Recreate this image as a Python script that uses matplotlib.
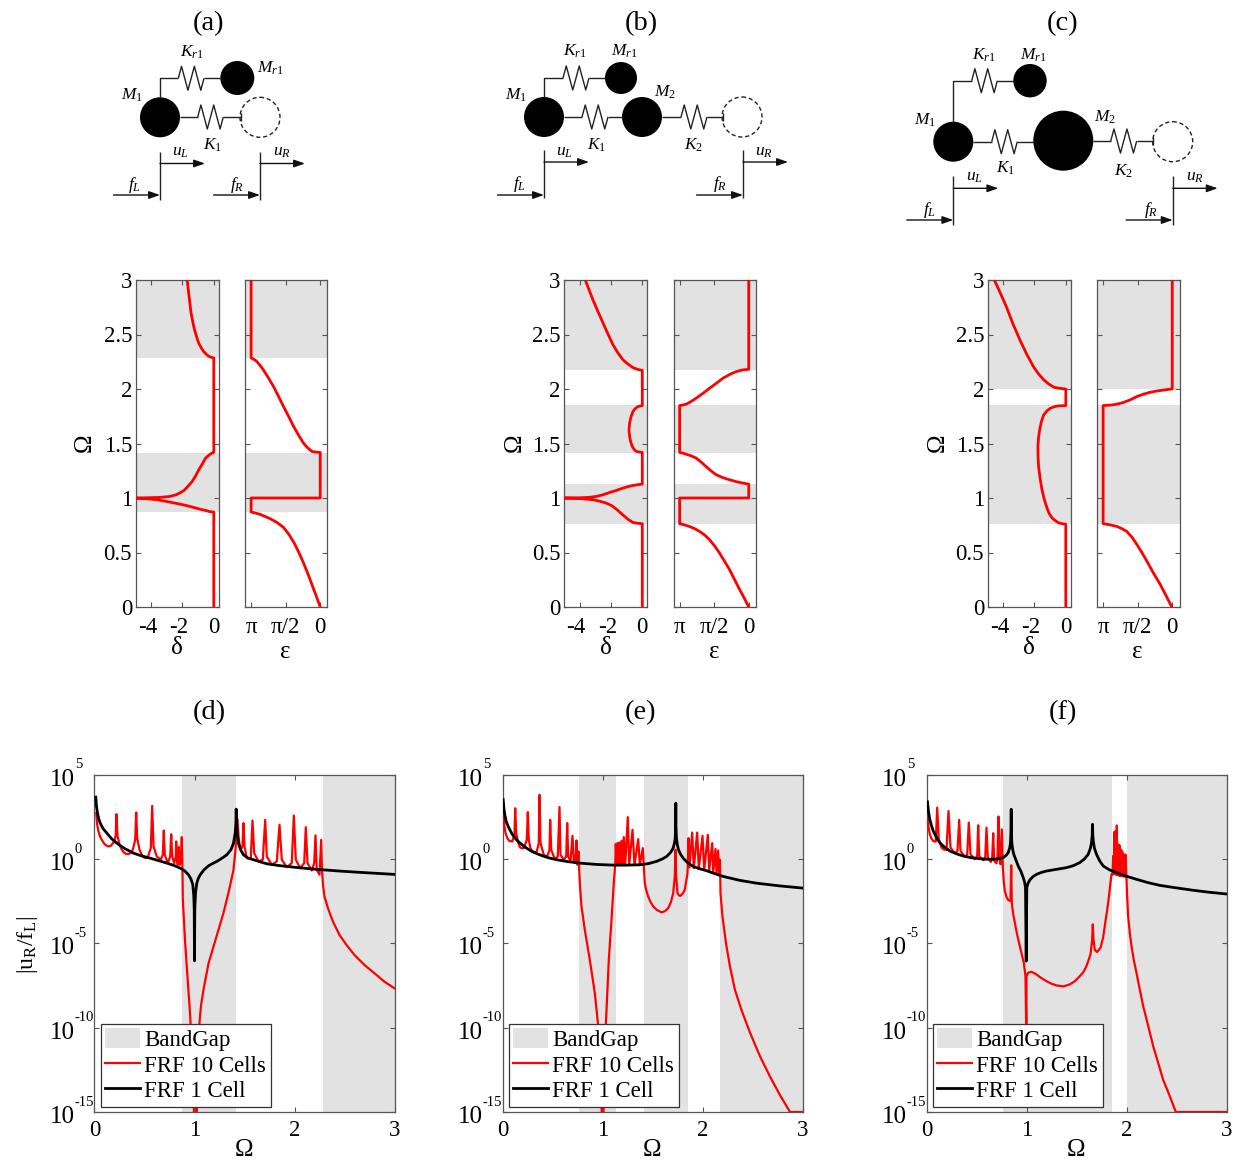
import numpy as np
import matplotlib as mpl
mpl.use('Agg')
import matplotlib.pyplot as plt
from matplotlib.patches import Circle
from matplotlib.transforms import ScaledTranslation

W, H = 1236, 1160
pi = np.pi

# band gaps, Omega from / to
GAPS_A = [(0.87, 1.415), (2.285, 3.0)]
GAPS_B = [(0.76, 1.13), (1.415, 1.85), (2.17, 3.0)]
GAPS_C = [(0.76, 1.85), (2.0, 3.0)]

# attenuation delta: (Omega, delta)
DELTA_A = [(0, 0), (0.871, 0), (0.873, -0.15), (0.878, -0.35), (0.886, -0.53), (0.895, -0.8), (0.904, -1.06),
           (0.916, -1.35), (0.929, -1.7), (0.945, -2.2), (0.962, -2.8), (0.984, -3.6), (0.993, -4.3), (0.998, -4.9),
           (1.0, -5.2), (1.002, -4.3), (1.005, -3.5), (1.014, -2.8), (1.03, -2.4), (1.05, -2.12), (1.07, -1.9),
           (1.11, -1.63), (1.152, -1.38), (1.2, -1.17), (1.259, -0.96), (1.31, -0.74), (1.366, -0.53), (1.39, -0.33),
           (1.405, -0.2), (1.413, -0.1), (1.418, 0), (2.285, 0), (2.29, -0.15), (2.30, -0.32), (2.32, -0.49),
           (2.343, -0.64), (2.38, -0.81), (2.42, -0.96), (2.48, -1.1), (2.542, -1.23), (2.615, -1.34), (2.695, -1.45),
           (2.85, -1.58), (3.0, -1.7)]
DELTA_B = [(0, 0), (0.764, 0), (0.768, -0.3), (0.776, -0.6), (0.8, -0.87), (0.831, -1.13), (0.865, -1.4),
           (0.898, -1.66), (0.93, -1.95), (0.953, -2.3), (0.97, -2.7), (0.984, -3.15), (0.996, -4), (1.0, -5.2),
           (1.002, -4), (1.006, -3.4), (1.014, -2.94), (1.03, -2.5), (1.051, -2.08), (1.07, -1.65), (1.091, -1.23),
           (1.105, -0.9), (1.115, -0.6), (1.122, -0.3), (1.127, 0), (1.418, 0), (1.422, -0.2), (1.427, -0.38),
           (1.445, -0.52), (1.473, -0.64), (1.52, -0.75), (1.564, -0.81), (1.625, -0.85), (1.687, -0.81), (1.74, -0.73),
           (1.793, -0.6), (1.82, -0.45), (1.839, -0.28), (1.848, 0), (2.17, 0), (2.18, -0.3), (2.197, -0.6),
           (2.23, -0.92), (2.267, -1.23), (2.33, -1.55), (2.405, -1.87), (2.5, -2.18), (2.603, -2.5), (2.71, -2.83),
           (2.817, -3.15), (2.91, -3.4), (3.0, -3.64)]
DELTA_C = [(0, 0), (0.76, 0), (0.763, -0.2), (0.77, -0.43), (0.79, -0.65), (0.816, -0.87), (0.855, -1.05),
           (0.907, -1.2), (0.99, -1.38), (1.075, -1.52), (1.18, -1.64), (1.289, -1.74), (1.38, -1.77), (1.473, -1.78),
           (1.555, -1.74), (1.625, -1.67), (1.7, -1.56), (1.763, -1.41), (1.8, -1.2), (1.824, -0.98), (1.838, -0.72),
           (1.845, -0.5), (1.848, 0), (2.0, 0), (2.005, -0.35), (2.016, -0.76), (2.045, -1.08), (2.084, -1.41),
           (2.14, -1.75), (2.206, -2.07), (2.32, -2.5), (2.45, -2.93), (2.6, -3.38), (2.756, -3.8), (2.88, -4.18),
           (3.0, -4.56)]

# phase epsilon: (Omega, epsilon)
EPS_A = [(0, 0), (0.095, 0.17), (0.19, 0.349), (0.3, 0.55), (0.403, 0.759), (0.5, 0.97), (0.587, 1.184),
         (0.665, 1.42), (0.73, 1.669), (0.775, 1.96), (0.81, 2.276), (0.83, 2.5), (0.85, 2.73), (0.862, 2.95),
         (0.871, pi), (1.0, pi), (1.0, 0), (1.418, 0), (1.421, 0.2), (1.427, 0.38), (1.46, 0.57), (1.503, 0.76),
         (1.575, 0.98), (1.656, 1.21), (1.75, 1.44), (1.839, 1.67), (1.93, 1.89), (2.022, 2.12), (2.1, 2.35),
         (2.175, 2.58), (2.215, 2.73), (2.252, 2.88), (2.273, 3.02), (2.285, pi), (3.0, pi)]
EPS_B = [(0, 0), (0.08, 0.2), (0.159, 0.41), (0.25, 0.64), (0.342, 0.87), (0.42, 1.1), (0.495, 1.33),
         (0.56, 1.55), (0.617, 1.78), (0.66, 2.0), (0.694, 2.24), (0.72, 2.47), (0.739, 2.7), (0.755, 2.95),
         (0.764, pi), (1.0, pi), (1.0, 0), (1.127, 0), (1.131, 0.12), (1.137, 0.26), (1.15, 0.57), (1.167, 0.87),
         (1.187, 1.18), (1.213, 1.48), (1.25, 1.72), (1.289, 1.94), (1.33, 2.17), (1.366, 2.39), (1.387, 2.62),
         (1.402, 2.85), (1.412, 3.0), (1.418, pi), (1.848, pi), (1.852, 3.02), (1.86, 2.85), (1.885, 2.62),
         (1.916, 2.39), (1.96, 2.08), (2.007, 1.78), (2.053, 1.47), (2.099, 1.17), (2.135, 0.85), (2.16, 0.56),
         (2.175, 0.28), (2.181, 0), (3.0, 0)]
EPS_C = [(0, 0.02), (0.1, 0.27), (0.205, 0.54), (0.31, 0.85), (0.419, 1.15), (0.5, 1.38), (0.571, 1.6),
         (0.64, 1.83), (0.694, 2.07), (0.72, 2.3), (0.74, 2.53), (0.755, 2.85), (0.764, pi), (1.848, pi),
         (1.851, 2.9), (1.855, 2.68), (1.864, 2.45), (1.876, 2.22), (1.9, 1.92), (1.931, 1.6), (1.953, 1.3),
         (1.97, 1.0), (1.982, 0.7), (1.99, 0.38), (1.997, 0.15), (2.0, 0), (3.0, 0)]

# FRF: (Omega, log10 |uR/fL|)
RED_D = [(0.017, 2.71), (0.025, 2.1), (0.04, 1.62), (0.055, 1.33), (0.073, 1.13), (0.097, 0.9), (0.123, 0.77),
         (0.145, 0.74), (0.163, 0.77), (0.197, 1.03), (0.212, 1.37), (0.22, 2.65), (0.23, 1.37), (0.25, 0.83),
         (0.27, 0.58), (0.29, 0.4), (0.315, 0.3), (0.34, 0.28), (0.365, 0.37), (0.383, 0.54), (0.407, 1.13),
         (0.417, 2.75), (0.427, 1.23), (0.45, 0.54), (0.47, 0.28), (0.49, 0.1), (0.51, 0.05), (0.533, 0.1), (0.563, 0.64),
         (0.577, 3.14), (0.59, 0.74), (0.623, 0.14), (0.663, -0.05), (0.683, 0.24), (0.693, 1.68), (0.703, 0.24),
         (0.733, -0.25), (0.757, 0.14), (0.767, 1.46), (0.777, 0.14), (0.797, -0.25), (0.813, 0.14), (0.817, 1.03),
         (0.823, -0.05), (0.833, -0.35), (0.843, 0.7), (0.853, -0.35), (0.865, 0.0), (0.873, 1.29), (0.88, -0.85),
         (0.883, -2.4), (0.907, -5), (0.93, -7), (0.957, -9.3), (0.983, -12.9), (1.0, -16), (1.023, -15), (1.047, -9.9),
         (1.065, -8.7), (1.09, -7.75), (1.14, -6.2), (1.19, -5.2), (1.24, -4.2), (1.29, -3.2), (1.34, -2), (1.37, -1.2),
         (1.39, -0.65), (1.41, 0.54), (1.43, 2.35), (1.443, 1.13), (1.463, 0.54), (1.48, 0.74), (1.49, 2.12), (1.5, 0.74),
         (1.523, 0.04), (1.563, 0.04), (1.58, 2.27), (1.597, 0.34), (1.64, -0.15), (1.683, -0.05), (1.707, 2.31),
         (1.723, 0.14), (1.773, -0.35), (1.823, -0.15), (1.85, 2.02), (1.873, -0.05), (1.923, -0.49), (1.973, -0.25),
         (1.993, 2.57), (2.013, -0.05), (2.057, -0.55), (2.097, -0.25), (2.113, 1.88), (2.13, -0.25), (2.173, -0.69),
         (2.197, -0.25), (2.21, 1.39), (2.223, -0.65), (2.25, -0.94), (2.267, 1.13), (2.275, -0.66), (2.285, -1.55),
         (2.30, -2.24), (2.335, -2.93), (2.385, -3.72), (2.45, -4.51), (2.52, -5.1), (2.60, -5.7), (2.70, -6.29),
         (2.80, -6.78), (2.90, -7.28), (3.0, -7.67)]
BLACK_D = [(0.013, 3.66), (0.02, 3.1), (0.03, 2.71), (0.042, 2.38), (0.057, 2.12), (0.085, 1.8), (0.123, 1.53),
           (0.17, 1.2), (0.223, 0.93), (0.3, 0.62), (0.39, 0.34), (0.47, 0.18), (0.557, 0.04), (0.64, -0.1),
           (0.723, -0.25), (0.8, -0.4), (0.857, -0.55), (0.9, -0.7), (0.94, -0.94), (0.965, -1.2), (0.983, -1.53),
           (0.993, -2.2), (0.997, -3), (1.0, -6.04), (1.003, -3), (1.01, -2.03), (1.023, -1.44), (1.037, -1.17),
           (1.057, -0.94), (1.095, -0.65), (1.14, -0.41), (1.18, -0.28), (1.223, -0.15), (1.27, 0.02), (1.323, 0.24),
           (1.365, 0.55), (1.39, 0.93), (1.407, 1.53), (1.414, 2.1), (1.417, 2.95), (1.42, 2.1), (1.427, 1.53),
           (1.443, 0.83), (1.463, 0.52), (1.49, 0.24), (1.535, 0.05), (1.59, -0.05), (1.66, -0.18), (1.723, -0.29),
           (1.85, -0.4), (1.99, -0.49), (2.14, -0.58), (2.29, -0.65), (2.47, -0.73), (2.657, -0.8), (2.83, -0.86),
           (3.0, -0.92)]
RED_E = [(0.01, 2.51), (0.018, 2.0), (0.03, 1.53), (0.047, 1.25), (0.067, 1.07), (0.097, 1.03), (0.12, 1.43), (0.127, 3.0),
         (0.137, 1.53), (0.155, 1.0), (0.173, 0.7), (0.193, 0.62), (0.213, 0.64), (0.243, 1.13), (0.253, 2.77), (0.263, 1.13),
         (0.28, 0.62), (0.3, 0.44), (0.34, 0.38), (0.363, 0.93), (0.37, 3.8), (0.38, 0.93), (0.413, 0.24), (0.447, 0.14),
         (0.47, 0.54), (0.477, 2.31), (0.487, 0.54), (0.523, -0.02), (0.553, 0.14), (0.57, 3.07), (0.58, 0.24), (0.613, -0.05),
         (0.637, 0.14), (0.647, 2.12), (0.657, 0.14), (0.68, -0.15), (0.7, 1.37), (0.713, -0.15), (0.73, -0.25), (0.74, 1.09),
         (0.75, -0.35), (0.76, 0.44), (0.767, -0.65), (0.775, -1.6), (0.79, -2.82), (0.823, -4.2), (0.873, -5.98), (0.923, -7.95),
         (0.957, -9.9), (0.983, -13.9), (1.0, -16), (1.02, -13.9), (1.033, -9.9), (1.063, -5.98), (1.09, -3.6),
         (1.113, -1.44), (1.127, -0.35), (1.133, 0.89), (1.14, -0.35), (1.15, 0.93), (1.157, -0.35), (1.167, 0.97),
         (1.177, -0.35), (1.19, 1.07), (1.2, -0.35), (1.213, 1.29), (1.227, -0.37), (1.253, 2.47), (1.267, -0.37),
         (1.3, 1.72), (1.32, -0.37), (1.357, 1.17), (1.373, -0.37), (1.403, 0.64), (1.413, -0.45), (1.423, -1.44),
         (1.437, -1.85), (1.457, -2.23), (1.48, -2.55), (1.507, -2.82), (1.545, -3.03), (1.59, -3.17), (1.625, -3.1),
         (1.657, -2.92), (1.685, -2.55), (1.707, -2.03), (1.723, -1.04), (1.73, 0.54), (1.737, -1.04), (1.75, -2.03),
         (1.765, -2.17), (1.78, -2.19), (1.803, -2.05), (1.823, -1.83), (1.85, -0.85), (1.86, 1.23), (1.87, -0.5),
         (1.897, 1.56), (1.913, -0.55), (1.947, 1.56), (1.963, -0.6), (2.0, 1.37), (2.017, -0.65), (2.053, 1.43),
         (2.067, -0.7), (2.097, 0.93), (2.107, -0.8), (2.13, 0.58), (2.14, -0.85), (2.157, 0.5), (2.167, -0.9),
         (2.175, -0.05), (2.178, -1.06), (2.18, -2.04), (2.20, -3.43), (2.235, -5.0), (2.275, -6.39), (2.325, -7.77),
         (2.39, -8.96), (2.475, -10.3), (2.575, -11.7), (2.675, -12.9), (2.775, -14.0), (2.875, -15), (3.0, -15)]
BLACK_E = [(0.007, 3.5), (0.014, 3.0), (0.023, 2.61), (0.038, 2.2), (0.057, 1.92), (0.095, 1.48), (0.14, 1.13),
           (0.19, 0.86), (0.24, 0.64), (0.3, 0.42), (0.373, 0.24), (0.45, 0.08), (0.54, -0.05), (0.65, -0.16),
           (0.773, -0.25), (0.94, -0.33), (1.107, -0.37), (1.24, -0.37), (1.373, -0.35), (1.46, -0.28), (1.54, -0.15),
           (1.6, 0.0), (1.64, 0.14), (1.68, 0.37), (1.707, 0.64), (1.72, 0.95), (1.727, 1.23), (1.731, 1.9), (1.733, 3.3),
           (1.735, 1.9), (1.74, 1.23), (1.748, 0.85), (1.76, 0.54), (1.78, 0.28), (1.807, 0.04), (1.85, -0.22), (1.907, -0.45),
           (1.97, -0.58), (2.04, -0.7), (2.12, -0.87), (2.207, -1.04), (2.37, -1.27), (2.54, -1.44), (2.77, -1.6), (3.0, -1.73)]
RED_F = [(0.013, 2.35), (0.02, 1.9), (0.033, 1.46), (0.048, 1.22), (0.067, 1.06), (0.093, 1.02), (0.107, 3.04), (0.123, 1.16),
         (0.15, 0.67), (0.175, 0.55), (0.2, 0.53), (0.22, 2.84), (0.24, 0.67), (0.283, 0.33), (0.31, 0.47), (0.327, 2.31), (0.34, 0.47),
         (0.383, 0.13), (0.407, 0.27), (0.423, 2.15), (0.44, 0.27), (0.483, -0.02), (0.507, 0.17), (0.517, 1.99),
         (0.527, 0.17), (0.567, -0.08), (0.587, 0.07), (0.6, 1.85), (0.613, 0.07), (0.643, -0.18), (0.657, 0.07),
         (0.667, 1.52), (0.677, -0.12), (0.7, -0.26), (0.71, 0.17), (0.72, 2.51), (0.73, -0.02), (0.74, -0.32),
         (0.753, 1.75), (0.763, -0.42), (0.772, -1.3), (0.783, -1.9), (0.8, -2.25), (0.817, -2.44), (0.84, -2.5), (0.847, -0.38),
         (0.853, -2.6), (0.865, -3.2), (0.883, -3.78), (0.905, -4.45), (0.933, -5.17), (0.973, -6.16), (0.99, -6.95), (0.997, -9.9),
         (0.999, -10.9), (1.0, -6.95), (1.017, -6.75), (1.05, -6.69), (1.1, -6.85), (1.15, -7.07), (1.2, -7.25), (1.25, -7.4), (1.3, -7.5),
         (1.367, -7.56), (1.433, -7.44), (1.485, -7.24), (1.533, -6.95), (1.57, -6.7), (1.6, -6.35), (1.64, -5.66), (1.657, -4.77),
         (1.663, -3.88), (1.67, -4.77), (1.683, -5.4), (1.707, -5.52), (1.74, -5.27), (1.765, -4.7), (1.783, -3.98), (1.817, -2.6),
         (1.84, -1.41), (1.85, -0.92), (1.86, -0.92), (1.867, 0.17), (1.873, -0.9), (1.877, 1.59), (1.883, -0.9),
         (1.89, 1.65), (1.897, -0.95), (1.903, 1.98), (1.91, -0.95), (1.917, 0.85), (1.923, -1.0), (1.93, 0.8),
         (1.937, -1.0), (1.943, 0.55), (1.95, -1.0), (1.957, 0.45), (1.967, -1.05), (1.973, 0.25), (1.983, -1.05),
         (1.99, 0.25), (2.0, -1.2), (2.005, -2.0), (2.015, -3.3), (2.033, -4.4), (2.05, -5.17), (2.073, -6.0), (2.1, -6.75), (2.133, -7.75),
         (2.167, -8.73), (2.217, -9.9), (2.267, -11.1), (2.317, -12.1), (2.367, -13.1), (2.427, -13.97), (2.493, -15), (3.0, -15)]
BLACK_F = [(0.01, 3.38), (0.02, 2.8), (0.033, 2.35), (0.048, 2.0), (0.067, 1.66), (0.1, 1.27), (0.133, 0.96), (0.18, 0.7),
           (0.233, 0.47), (0.3, 0.3), (0.367, 0.17), (0.45, 0.07), (0.533, 0.01), (0.6, -0.02), (0.667, -0.02), (0.72, 0.0), (0.767, 0.07),
           (0.795, 0.2), (0.817, 0.37), (0.832, 0.65), (0.84, 0.96), (0.844, 1.6), (0.847, 2.94), (0.85, 1.6), (0.853, 0.96),
           (0.862, 0.55), (0.873, 0.27), (0.895, -0.08), (0.917, -0.42), (0.945, -0.75), (0.967, -1.11), (0.98, -1.35), (0.99, -1.7),
           (0.997, -6.06), (1.003, -1.7), (1.015, -1.45), (1.033, -1.25), (1.065, -1.05), (1.1, -0.92), (1.15, -0.8), (1.2, -0.72), (1.3, -0.62),
           (1.4, -0.52), (1.47, -0.4), (1.533, -0.22), (1.58, 0.0), (1.617, 0.27), (1.64, 0.65), (1.65, 0.96), (1.657, 1.4), (1.66, 2.05),
           (1.663, 1.4), (1.67, 0.96), (1.68, 0.62), (1.7, 0.27), (1.73, -0.1), (1.767, -0.42), (1.83, -0.65), (1.9, -0.82), (2.0, -1.03),
           (2.1, -1.21), (2.21, -1.4), (2.333, -1.57), (2.5, -1.72), (2.667, -1.86), (2.83, -1.98), (3.0, -2.08)]

OMEGA_TICKS = [0, 0.5, 1, 1.5, 2, 2.5, 3]
OMEGA_LABELS = ['0', '0.5', '1', '1.5', '2', '2.5', '3']
DELTA_TICKS = [-4, -2, 0]
DELTA_LABELS = ['-4', '-2', '0']
EPS_TICKS = [pi, pi / 2, 0]
EPS_LABELS = ['π', 'π/2', '0']
FRF_EXPONENTS = [-15, -10, -5, 0, 5]

GRAY = '#e2e2e2'
FRAME = '#555555'

mpl.rcParams.update({'font.family': 'Liberation Serif', 'font.size': 16.5,
                     'mathtext.fontset': 'custom', 'mathtext.rm': 'Liberation Serif',
                     'mathtext.it': 'Liberation Serif:italic',
                     'axes.edgecolor': FRAME, 'axes.linewidth': 0.9,
                     'xtick.color': FRAME, 'ytick.color': FRAME,
                     'xtick.labelcolor': 'black', 'ytick.labelcolor': 'black',
                     'axes.unicode_minus': False})

fig = plt.figure(figsize=(W / 100, H / 100), dpi=100)


def px_axes(left, top, right, bottom):
    return fig.add_axes([left / W, 1 - bottom / H, (right - left) / W, (bottom - top) / H])


def box_ticks(ax):
    ax.tick_params(which='both', direction='in', top=True, right=True, length=3.5, width=0.8)
    ax.minorticks_off()


def nudge(labels, dx, dy):
    # shift tick labels by some pixels
    off = ScaledTranslation(dx / 100, dy / 100, fig.dpi_scale_trans)
    for t in labels:
        t.set_transform(t.get_transform() + off)


def dispersion(left, gaps, delta, eps):
    # left panel delta, right panel epsilon
    ax1 = px_axes(left, 280, left + 83, 607)
    ax2 = px_axes(left + 109.5, 280, left + 192, 607)
    for a in (ax1, ax2):
        for g in gaps:
            a.axhspan(g[0], g[1], color=GRAY, lw=0, zorder=1)
        a.set_ylim(0, 3)
        a.set_yticks(OMEGA_TICKS)
        box_ticks(a)
        a.tick_params(axis='x', pad=7)
        a.tick_params(axis='y', pad=2.5)
    ax1.plot([p[1] for p in delta], [p[0] for p in delta], color='red', lw=2.0, zorder=3)
    ax1.set_xlim(-5, 0.3)
    ax1.set_xticks(DELTA_TICKS)
    ax1.set_xticklabels(DELTA_LABELS)
    ax1.set_yticklabels(OMEGA_LABELS)
    nudge(ax1.get_xticklabels()[:2], -3.5, 0)
    ax2.plot([p[1] for p in eps], [p[0] for p in eps], color='red', lw=2.0, zorder=3)
    ax2.set_xlim(3.42, -0.33)
    ax2.set_xticks(EPS_TICKS)
    ax2.set_xticklabels(EPS_LABELS)
    ax2.set_yticklabels([])


def frf(left, gaps, red, black):
    ax = px_axes(left, 774.5, left + 300, 1112)
    for i, g in enumerate(gaps):
        ax.axvspan(g[0], g[1], color=GRAY, lw=0, zorder=1, label='BandGap' if i == 0 else None)
    ax.semilogy([p[0] for p in red], [10.0 ** p[1] for p in red], color='red', lw=1.6, zorder=3, label='FRF 10 Cells')
    ax.semilogy([p[0] for p in black], [10.0 ** p[1] for p in black], color='black', lw=2.0, zorder=4, label='FRF 1 Cell')
    ax.set_xlim(0, 3)
    ax.set_ylim(1e-15, 1e5)
    ax.set_xticks([0, 1, 2, 3])
    ax.set_yticks([10.0 ** e for e in FRF_EXPONENTS])
    ax.set_yticklabels(['10'] * len(FRF_EXPONENTS), fontsize=18)
    box_ticks(ax)
    ax.tick_params(axis='x', pad=6)
    ax.tick_params(axis='y', pad=14.4)
    nudge(ax.get_yticklabels(), 0, -2.5)
    # exponents, smaller than the 10 and tight against it
    for e in FRF_EXPONENTS:
        ax.annotate(str(e), xy=(0, 10.0 ** e), xycoords=('axes fraction', 'data'), xytext=(-14.2, 7),
                    textcoords='offset points', ha='left', va='center', fontsize=10.5, annotation_clip=False)
    leg = ax.legend(loc='lower left', bbox_to_anchor=(0.0207, 0.0157), borderaxespad=0, fancybox=False,
                    framealpha=1, edgecolor='#333333', fontsize=16.5, handlelength=1.5, handleheight=0.95,
                    handletextpad=0.2, labelspacing=0.12, borderpad=0.2)
    leg.get_frame().set_linewidth(0.9)
    leg.set_zorder(5)


dispersion(135.5, GAPS_A, DELTA_A, EPS_A)
dispersion(564, GAPS_B, DELTA_B, EPS_B)
dispersion(987.5, GAPS_C, DELTA_C, EPS_C)
frf(94.5, GAPS_A, RED_D, BLACK_D)
frf(502.5, GAPS_B, RED_E, BLACK_E)
frf(926.5, GAPS_C, RED_F, BLACK_F)

# overlay in pixel coordinates: schematics, titles, axis labels
ov = fig.add_axes([0, 0, 1, 1])
ov.set_xlim(0, W)
ov.set_ylim(H, 0)
ov.axis('off')
ov.patch.set_alpha(0)


def label(x, y, s, size=16.5, rot=0):
    ov.text(x, y, s, fontsize=size, rotation=rot, ha='center', va='center', color='black')


def wire(xs, ys):
    ov.plot(xs, ys, color='#222222', lw=1.0, solid_capstyle='butt')


def mass(x, y, r):
    ov.add_patch(Circle((x, y), r, color='black', lw=0))


def ghost(x, y, r):
    ov.add_patch(Circle((x, y), r, fill=False, ls=(0, (3, 2)), lw=1.0, ec='#222222'))


def spring(x0, x1, y, amp=12):
    step = (x1 - x0) / 8
    xs = [x0, x0 + step, x0 + 3 * step, x0 + 5 * step, x0 + 7 * step, x1]
    ys = [y, y - amp, y + amp, y - amp, y + amp, y]
    wire(xs, ys)


def arrow(x0, x1, y):
    ov.annotate('', xy=(x1, y), xytext=(x0, y),
                arrowprops=dict(arrowstyle='-|>,head_length=0.4,head_width=0.14', color='#111111', lw=1.0,
                                shrinkA=0, shrinkB=0))


def forces(xl, xr, top, bottom, yu, yf):
    wire([xl, xl], [top, bottom])
    wire([xr, xr], [top, bottom])
    arrow(xl, xl + 45, yu)
    arrow(xr, xr + 45, yu)
    arrow(xl - 46.5, xl, yf)
    arrow(xr - 46.5, xr, yf)


def sym(x, y, s):
    label(x, y, s, size=12.5)


# (a)
mass(160, 117.3, 20)
mass(237.3, 78, 17)
ghost(260, 117.3, 20)
wire([160, 160, 178.3], [98, 78.3, 78.3])
spring(178.3, 204, 78.3)
wire([204, 221], [78.3, 78.3])
wire([180, 197.7], [117, 117])
spring(197.7, 223.3, 117)
wire([223.3, 240.7], [117, 117])
wire([240.7, 240.7], [113, 121])
forces(160, 260, 152, 200, 163.5, 195)
sym(191.7, 52, r'$\mathit{K}_{\mathit{r}1}$')
sym(270, 68, r'$\mathit{M}_{\mathit{r}1}$')
sym(131.7, 95, r'$\mathit{M}_{1}$')
sym(212.7, 145, r'$\mathit{K}_{1}$')
sym(180, 152, r'$\mathit{u}_{\mathit{L}}$')
sym(134, 185, r'$\mathit{f}_{\mathit{L}}$')
sym(281.7, 152, r'$\mathit{u}_{\mathit{R}}$')
sym(236.7, 185, r'$\mathit{f}_{\mathit{R}}$')

# (b)
mass(544, 117, 20)
mass(621, 78, 16)
mass(642, 117, 20)
ghost(742, 117, 20)
wire([544, 544, 563], [97, 78, 78])
spring(563, 589, 78)
wire([589, 605], [78, 78])
wire([564, 582], [117, 117])
spring(582, 608, 117)
wire([608, 622], [117, 117])
wire([662, 681], [117, 117])
spring(681, 707, 117)
wire([707, 723], [117, 117])
wire([723, 723], [113, 121])
forces(544, 743, 150, 198, 162, 195)
sym(575, 51, r'$\mathit{K}_{\mathit{r}1}$')
sym(624, 51, r'$\mathit{M}_{\mathit{r}1}$')
sym(516, 95, r'$\mathit{M}_{1}$')
sym(665, 92, r'$\mathit{M}_{2}$')
sym(597, 145, r'$\mathit{K}_{1}$')
sym(694, 145, r'$\mathit{K}_{2}$')
sym(564, 152, r'$\mathit{u}_{\mathit{L}}$')
sym(519, 184, r'$\mathit{f}_{\mathit{L}}$')
sym(764, 152, r'$\mathit{u}_{\mathit{R}}$')
sym(720, 184, r'$\mathit{f}_{\mathit{R}}$')

# (c)
mass(953.3, 141.7, 20)
mass(1030, 80.7, 16.7)
mass(1063.3, 140.7, 30)
ghost(1172.7, 141.7, 20)
wire([953.3, 953.3, 971.7], [122, 80.7, 80.7])
spring(971.7, 997.3, 80.7)
wire([997.3, 1014], [80.7, 80.7])
wire([973, 991.7], [141.7, 141.7])
spring(991.7, 1017.3, 141.7)
wire([1017.3, 1034], [141.7, 141.7])
wire([1093, 1110.7], [141, 141])
spring(1110.7, 1136.7, 141)
wire([1136.7, 1152.7], [140.5, 140.5])
wire([1152.7, 1152.7], [136.5, 144.5])
forces(953.3, 1172.7, 176, 225, 188.3, 220)
sym(984.3, 55, r'$\mathit{K}_{\mathit{r}1}$')
sym(1033.3, 55, r'$\mathit{M}_{\mathit{r}1}$')
sym(925, 120, r'$\mathit{M}_{1}$')
sym(1105, 117.3, r'$\mathit{M}_{2}$')
sym(1006, 168.3, r'$\mathit{K}_{1}$')
sym(1123.3, 171.7, r'$\mathit{K}_{2}$')
sym(974, 176.7, r'$\mathit{u}_{\mathit{L}}$')
sym(929.3, 210, r'$\mathit{f}_{\mathit{L}}$')
sym(1195, 176.7, r'$\mathit{u}_{\mathit{R}}$')
sym(1150.7, 210, r'$\mathit{f}_{\mathit{R}}$')

# titles and axis labels
for s, x, y in [('(a)', 209, 24), ('(b)', 641, 24), ('(c)', 1063, 24),
                ('(d)', 209, 713), ('(e)', 641, 713), ('(f)', 1063, 713)]:
    label(x, y, s, size=20.5)
for x in (85, 515, 938):
    label(x, 443, 'Ω', size=18, rot=90)
for x in (177, 606, 1029):
    label(x, 648, 'δ', size=18)
for x in (285, 714, 1137):
    label(x, 652, 'ε', size=18)
for x in (244, 652, 1076):
    label(x, 1150, 'Ω', size=18)
label(27, 945, r'$\mathregular{|u_R/f_L|}$', size=17, rot=90)

plt.savefig('out.png', dpi=100)
